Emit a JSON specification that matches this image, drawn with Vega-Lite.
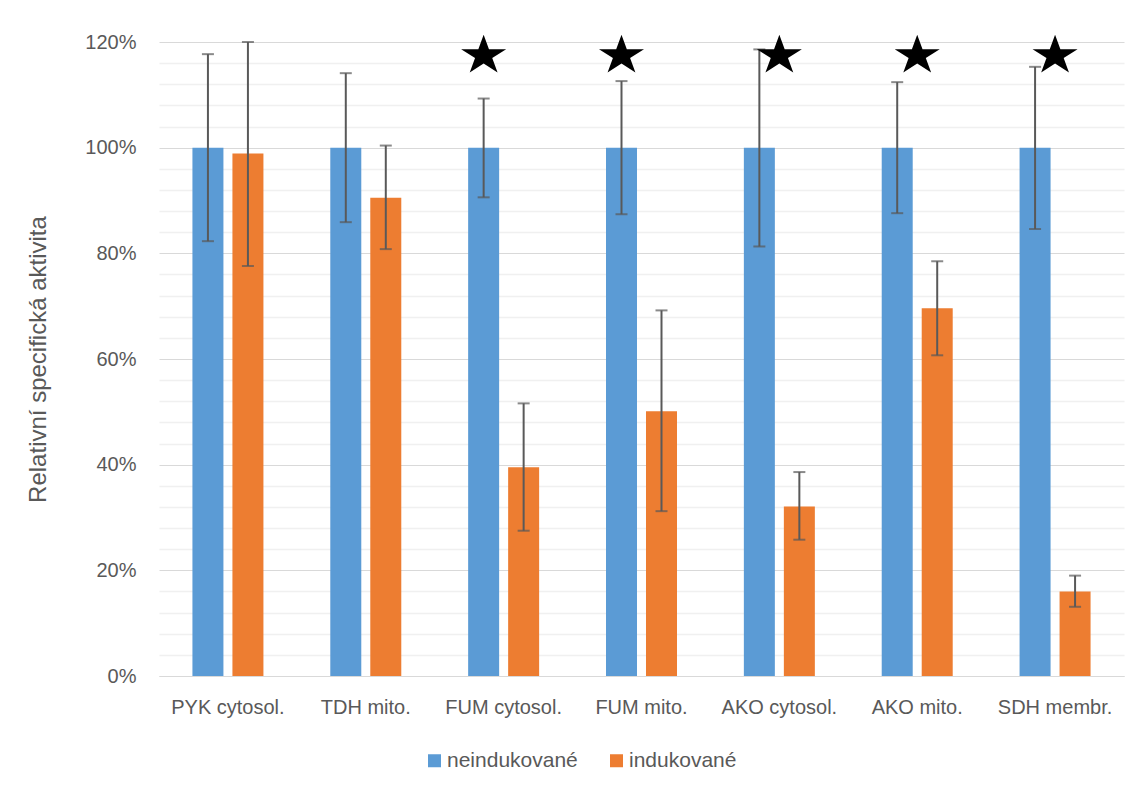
{
  "$schema": "https://vega.github.io/schema/vega-lite/v6.json",
  "width": 965,
  "height": 634,
  "autosize": {"type": "none"},
  "padding": {"left": 159, "top": 42, "right": 20, "bottom": 115},
  "background": "white",
  "config": {
    "view": {"stroke": null},
    "font": "Liberation Sans",
    "axis": {"labelFont": "Liberation Sans", "titleFont": "Liberation Sans", "labelColor": "#595959", "titleColor": "#595959"},
    "legend": {"labelFont": "Liberation Sans", "labelColor": "#595959"}
  },
  "datasets": {
    "bars": [
      {"cat": "PYK cytosol.", "series": "neindukované", "value": 1.0, "lo": 0.823, "hi": 1.177},
      {"cat": "PYK cytosol.", "series": "indukované", "value": 0.989, "lo": 0.776, "hi": 1.2},
      {"cat": "TDH mito.", "series": "neindukované", "value": 1.0, "lo": 0.859, "hi": 1.141},
      {"cat": "TDH mito.", "series": "indukované", "value": 0.905, "lo": 0.808, "hi": 1.004},
      {"cat": "FUM cytosol.", "series": "neindukované", "value": 1.0, "lo": 0.906, "hi": 1.093},
      {"cat": "FUM cytosol.", "series": "indukované", "value": 0.395, "lo": 0.275, "hi": 0.516},
      {"cat": "FUM mito.", "series": "neindukované", "value": 1.0, "lo": 0.874, "hi": 1.126},
      {"cat": "FUM mito.", "series": "indukované", "value": 0.501, "lo": 0.312, "hi": 0.692},
      {"cat": "AKO cytosol.", "series": "neindukované", "value": 1.0, "lo": 0.813, "hi": 1.186},
      {"cat": "AKO cytosol.", "series": "indukované", "value": 0.321, "lo": 0.258, "hi": 0.386},
      {"cat": "AKO mito.", "series": "neindukované", "value": 1.0, "lo": 0.876, "hi": 1.124},
      {"cat": "AKO mito.", "series": "indukované", "value": 0.696, "lo": 0.607, "hi": 0.785},
      {"cat": "SDH membr.", "series": "neindukované", "value": 1.0, "lo": 0.846, "hi": 1.153},
      {"cat": "SDH membr.", "series": "indukované", "value": 0.16, "lo": 0.131, "hi": 0.19}
    ],
    "starsLeft": [
      {"cat": "FUM cytosol.", "series": "neindukované", "y": 1.178},
      {"cat": "FUM mito.", "series": "neindukované", "y": 1.178}
    ],
    "starsCenter": [
      {"cat": "AKO cytosol.", "y": 1.178},
      {"cat": "AKO mito.", "y": 1.178},
      {"cat": "SDH membr.", "y": 1.178}
    ]
  },
  "resolve": {"axis": {"y": "independent"}},
  "layer": [
    {
      "data": {"name": "bars"},
      "mark": {"type": "bar"},
      "encoding": {
        "x": {
          "field": "cat", "type": "nominal", "sort": null,
          "scale": {"paddingInner": 0.485, "paddingOuter": 0.2425},
          "axis": {"title": null, "labelAngle": 0, "ticks": false, "tickSize": 0, "labelPadding": 21, "labelFontSize": 20, "domain": true, "domainColor": "#d9d9d9", "domainWidth": 1, "grid": false}
        },
        "xOffset": {
          "field": "series", "type": "nominal", "sort": ["neindukované", "indukované"],
          "scale": {"domain": ["neindukované", "indukované"], "paddingInner": 0.225, "paddingOuter": 0}
        },
        "y": {
          "field": "value", "type": "quantitative",
          "scale": {"domain": [0, 1.2], "nice": false, "zero": true},
          "axis": {
            "orient": "left",
            "values": [0, 0.2, 0.4, 0.6, 0.8, 1.0, 1.2],
            "format": ".0%",
            "title": "Relativní specifická aktivita",
            "titleFontSize": 24, "titleFontWeight": "normal", "titlePadding": 34,
            "labelFontSize": 20, "labelPadding": 23,
            "ticks": false, "tickSize": 0, "domain": false,
            "grid": true, "gridColor": "#d9d9d9", "gridWidth": 1
          }
        },
        "color": {
          "field": "series", "type": "nominal",
          "scale": {"domain": ["neindukované", "indukované"], "range": ["#5B9BD5", "#ED7D31"]},
          "legend": {
            "title": null, "orient": "none", "direction": "horizontal",
            "legendX": 265, "legendY": 708, "padding": 0,
            "symbolType": "square", "symbolSize": 169, "symbolStrokeWidth": 0,
            "labelFontSize": 21, "labelOffset": 2, "columnPadding": 28
          }
        }
      }
    },
    {
      "data": {"name": "bars"},
      "mark": {"type": "rule", "color": "#595959", "strokeWidth": 2},
      "encoding": {
        "x": {"field": "cat", "type": "nominal", "sort": null},
        "xOffset": {"field": "series", "type": "nominal"},
        "y": {
          "field": "lo", "type": "quantitative",
          "axis": {
            "orient": "right",
            "values": [0.04, 0.08, 0.12, 0.16, 0.24, 0.28, 0.32, 0.36, 0.44, 0.48, 0.52, 0.56, 0.64, 0.68, 0.72, 0.76, 0.84, 0.88, 0.92, 0.96, 1.04, 1.08, 1.12, 1.16],
            "labels": false, "ticks": false, "tickSize": 0, "domain": false, "title": null,
            "grid": true, "gridColor": "#f0f0f0", "gridWidth": 1.5
          }
        },
        "y2": {"field": "hi"}
      }
    },
    {
      "data": {"name": "bars"},
      "mark": {"type": "tick", "color": "#595959", "thickness": 2, "size": 12, "orient": "horizontal"},
      "encoding": {
        "x": {"field": "cat", "type": "nominal", "sort": null},
        "xOffset": {"field": "series", "type": "nominal"},
        "y": {"field": "lo", "type": "quantitative", "axis": null}
      }
    },
    {
      "data": {"name": "bars"},
      "mark": {"type": "tick", "color": "#595959", "thickness": 2, "size": 12, "orient": "horizontal"},
      "encoding": {
        "x": {"field": "cat", "type": "nominal", "sort": null},
        "xOffset": {"field": "series", "type": "nominal"},
        "y": {"field": "hi", "type": "quantitative", "axis": null}
      }
    },
    {
      "data": {"name": "starsLeft"},
      "mark": {"type": "point", "filled": true, "color": "black", "opacity": 1, "size": 2240,
               "shape": "M0,-0.796L0.2245,-0.188L0.951,-0.188L0.363,0.188L0.588,0.796L0,0.42L-0.588,0.796L-0.363,0.188L-0.951,-0.188L-0.2245,-0.188Z"},
      "encoding": {
        "x": {"field": "cat", "type": "nominal", "sort": null},
        "xOffset": {"field": "series", "type": "nominal"},
        "y": {"field": "y", "type": "quantitative", "axis": null}
      }
    },
    {
      "data": {"name": "starsCenter"},
      "mark": {"type": "point", "filled": true, "color": "black", "opacity": 1, "size": 2240,
               "shape": "M0,-0.796L0.2245,-0.188L0.951,-0.188L0.363,0.188L0.588,0.796L0,0.42L-0.588,0.796L-0.363,0.188L-0.951,-0.188L-0.2245,-0.188Z"},
      "encoding": {
        "x": {"field": "cat", "type": "nominal", "sort": null},
        "y": {"field": "y", "type": "quantitative", "axis": null}
      }
    }
  ]
}
